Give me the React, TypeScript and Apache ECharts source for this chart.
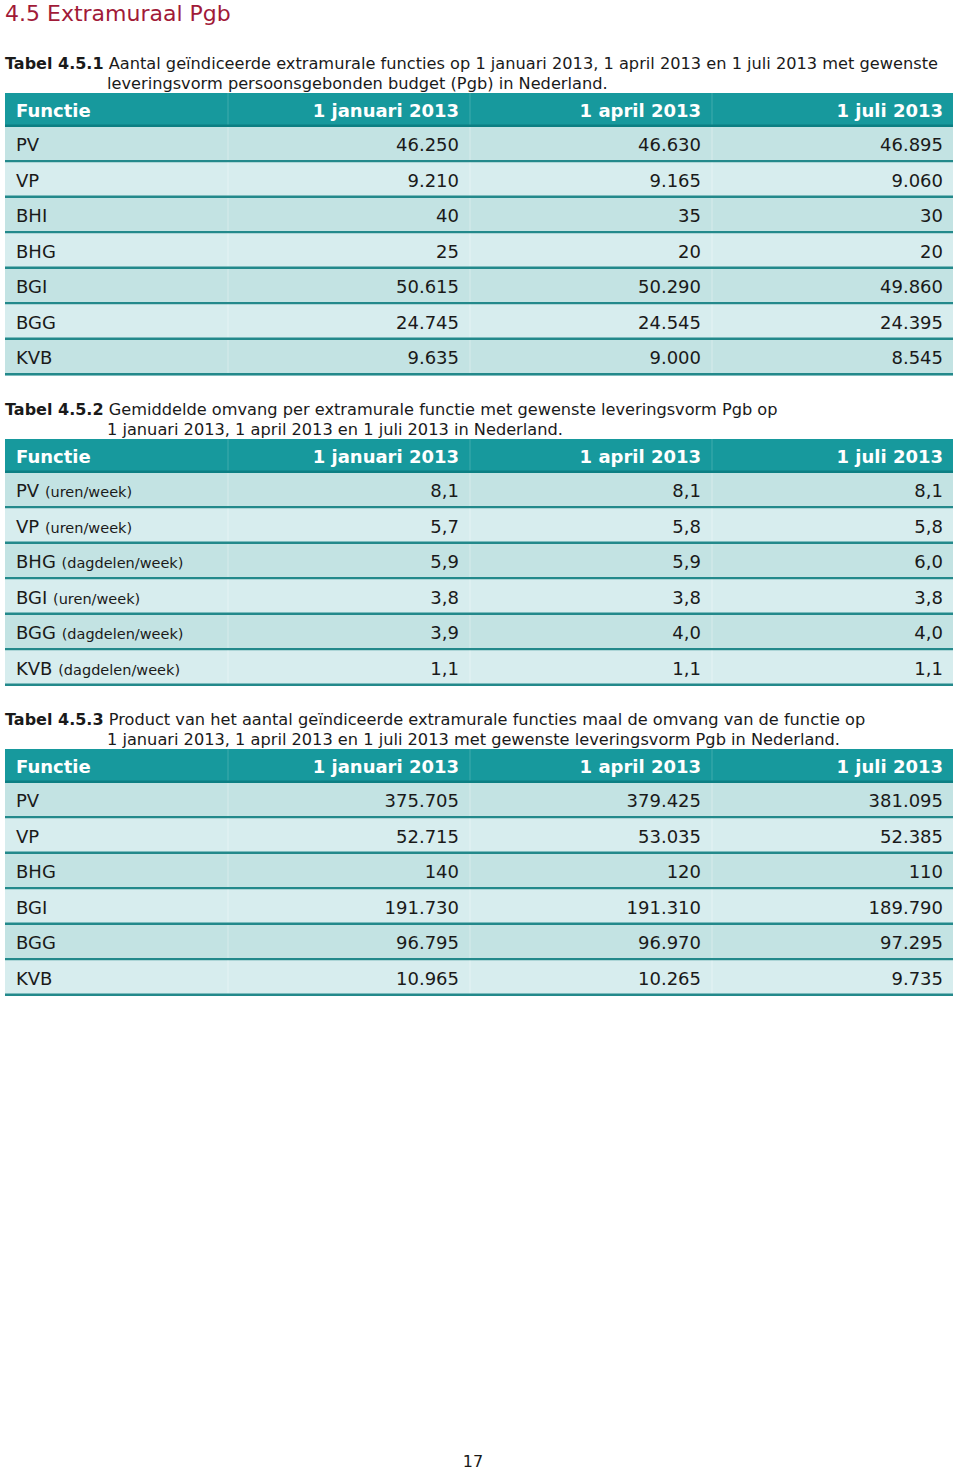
import React, { useEffect, useRef } from "react";
import * as echarts from "echarts";

const FONT = "'DejaVu Sans', Verdana, sans-serif";

const pageTitle = "4.5 Extramuraal Pgb";
const pageNumber = "17";
const columns = ["Functie", "1 januari 2013", "1 april 2013", "1 juli 2013"];

// Tabel 4.5.1
const t1Caption = ["Aantal geïndiceerde extramurale functies op 1 januari 2013, 1 april 2013 en 1 juli 2013 met gewenste", "leveringsvorm persoonsgebonden budget (Pgb) in Nederland."];
const t1Functions = ["PV", "VP", "BHI", "BHG", "BGI", "BGG", "KVB"];
const t1Units = ["", "", "", "", "", "", ""];
const t1Jan = [46250, 9210, 40, 25, 50615, 24745, 9635];
const t1Apr = [46630, 9165, 35, 20, 50290, 24545, 9000];
const t1Jul = [46895, 9060, 30, 20, 49860, 24395, 8545];

// Tabel 4.5.2
const t2Caption = ["Gemiddelde omvang per extramurale functie met gewenste leveringsvorm Pgb op", "1 januari 2013, 1 april 2013 en 1 juli 2013 in Nederland."];
const t2Functions = ["PV", "VP", "BHG", "BGI", "BGG", "KVB"];
const t2Units = ["(uren/week)", "(uren/week)", "(dagdelen/week)", "(uren/week)", "(dagdelen/week)", "(dagdelen/week)"];
const t2Jan = [8.1, 5.7, 5.9, 3.8, 3.9, 1.1];
const t2Apr = [8.1, 5.8, 5.9, 3.8, 4.0, 1.1];
const t2Jul = [8.1, 5.8, 6.0, 3.8, 4.0, 1.1];

// Tabel 4.5.3
const t3Caption = ["Product van het aantal geïndiceerde extramurale functies maal de omvang van de functie op", "1 januari 2013, 1 april 2013 en 1 juli 2013 met gewenste leveringsvorm Pgb in Nederland."];
const t3Functions = ["PV", "VP", "BHG", "BGI", "BGG", "KVB"];
const t3Units = ["", "", "", "", "", ""];
const t3Jan = [375705, 52715, 140, 191730, 96795, 10965];
const t3Apr = [379425, 53035, 120, 191310, 96970, 10265];
const t3Jul = [381095, 52385, 110, 189790, 97295, 9735];

function fmtInt(v: number): string {
  const s = Math.round(v).toString();
  return s.replace(/\B(?=(\d{3})+(?!\d))/g, ".");
}
function fmtDec(v: number): string {
  return v.toFixed(1).replace(".", ",");
}

const LEFT = 5;
const RIGHT = 953;
const HEADER_H = 34;
const ROW_H = 35.5;
const COL_SEPS = [228, 470, 712];
const COL_RIGHT = [459, 701, 943];

const HEADER_BG = "#17999d";
const HEADER_LINE = "#0c7f83";
const ROW_A = "#c3e3e3";
const ROW_B = "#d7edee";
const ROW_LINE = "#23898b";
const TEXT = "#1a1a1a";
const CAP = 16.2;

function buildTable(
  label: string,
  caption: string[],
  captionY: number,
  headerTop: number,
  funcs: string[],
  units: string[],
  cols: number[][],
  fmt: (v: number) => string
): any[] {
  const els: any[] = [];
  els.push({
    type: "text",
    x: LEFT,
    y: captionY,
    style: {
      text: `{b|${label}} {r|${caption[0]}}`,
      fontFamily: FONT,
      fontSize: CAP,
      fill: TEXT,
      verticalAlign: "middle",
      rich: {
        b: { fontFamily: FONT, fontSize: 16, fontWeight: "bold", fill: TEXT },
        r: { fontFamily: FONT, fontSize: CAP, fill: TEXT },
      },
    },
  });
  els.push({
    type: "text",
    x: 107,
    y: captionY + 20,
    style: { text: caption[1], fontFamily: FONT, fontSize: CAP, fill: TEXT, verticalAlign: "middle" },
  });
  // header
  els.push({ type: "rect", shape: { x: LEFT, y: headerTop, width: RIGHT - LEFT, height: HEADER_H }, style: { fill: HEADER_BG } });
  els.push({ type: "rect", shape: { x: LEFT, y: headerTop + HEADER_H - 2.5, width: RIGHT - LEFT, height: 2.5 }, style: { fill: HEADER_LINE } });
  COL_SEPS.forEach((x) => {
    els.push({ type: "line", shape: { x1: x, y1: headerTop, x2: x, y2: headerTop + HEADER_H - 2.5 }, style: { stroke: "rgba(255,255,255,0.18)", lineWidth: 1 } });
  });
  const hy = headerTop + HEADER_H / 2;
  els.push({ type: "text", x: 16, y: hy, style: { text: columns[0], fontFamily: FONT, fontSize: 18, fontWeight: "bold", fill: "#ffffff", verticalAlign: "middle" } });
  for (let c = 1; c < columns.length; c++) {
    els.push({ type: "text", x: COL_RIGHT[c - 1], y: hy, style: { text: columns[c], fontFamily: FONT, fontSize: 18, fontWeight: "bold", fill: "#ffffff", align: "right", verticalAlign: "middle" } });
  }
  // rows
  const top0 = headerTop + HEADER_H;
  funcs.forEach((f, i) => {
    const top = top0 + i * ROW_H;
    els.push({ type: "rect", shape: { x: LEFT, y: top, width: RIGHT - LEFT, height: ROW_H }, style: { fill: i % 2 === 0 ? ROW_A : ROW_B } });
    COL_SEPS.forEach((x) => {
      els.push({ type: "line", shape: { x1: x, y1: top, x2: x, y2: top + ROW_H - 2.5 }, style: { stroke: "rgba(255,255,255,0.35)", lineWidth: 1 } });
    });
    els.push({ type: "rect", shape: { x: LEFT, y: top + ROW_H - 2.5, width: RIGHT - LEFT, height: 2.5 }, style: { fill: ROW_LINE } });
    const cy = top + ROW_H / 2;
    const label = units[i] ? `${f} {u|${units[i]}}` : f;
    els.push({
      type: "text",
      x: 16,
      y: cy,
      style: {
        text: label,
        fontFamily: FONT,
        fontSize: 18,
        fill: TEXT,
        verticalAlign: "middle",
        rich: { u: { fontFamily: FONT, fontSize: 14.5, fill: TEXT, padding: [3, 0, 0, 0] } },
      },
    });
    cols.forEach((col, c) => {
      els.push({ type: "text", x: COL_RIGHT[c], y: cy, style: { text: fmt(col[i]), fontFamily: FONT, fontSize: 18, fill: TEXT, align: "right", verticalAlign: "middle" } });
    });
  });
  return els;
}

export default function App() {
  const ref = useRef<HTMLDivElement>(null);
  useEffect(() => {
    if (!ref.current) return;
    const chart = echarts.init(ref.current, null, { renderer: "svg" });
    const graphic: any[] = [
      { type: "rect", shape: { x: 0, y: 0, width: 960, height: 1470 }, style: { fill: "#ffffff" } },
      { type: "text", x: 5, y: 13, style: { text: pageTitle, fontFamily: FONT, fontSize: 22, fill: "#a11a38", verticalAlign: "middle" } },
      ...buildTable("Tabel 4.5.1", t1Caption, 63, 93, t1Functions, t1Units, [t1Jan, t1Apr, t1Jul], fmtInt),
      ...buildTable("Tabel 4.5.2", t2Caption, 409, 439, t2Functions, t2Units, [t2Jan, t2Apr, t2Jul], fmtDec),
      ...buildTable("Tabel 4.5.3", t3Caption, 719, 749, t3Functions, t3Units, [t3Jan, t3Apr, t3Jul], fmtInt),
      { type: "text", x: 473, y: 1461, style: { text: pageNumber, fontFamily: FONT, fontSize: 16, fill: TEXT, align: "center", verticalAlign: "middle" } },
    ];
    chart.setOption({ animation: false, graphic });
    return () => chart.dispose();
  }, []);
  return <div ref={ref} style={{ position: "absolute", left: 0, top: 0, width: 960, height: 1470 }} />;
}
